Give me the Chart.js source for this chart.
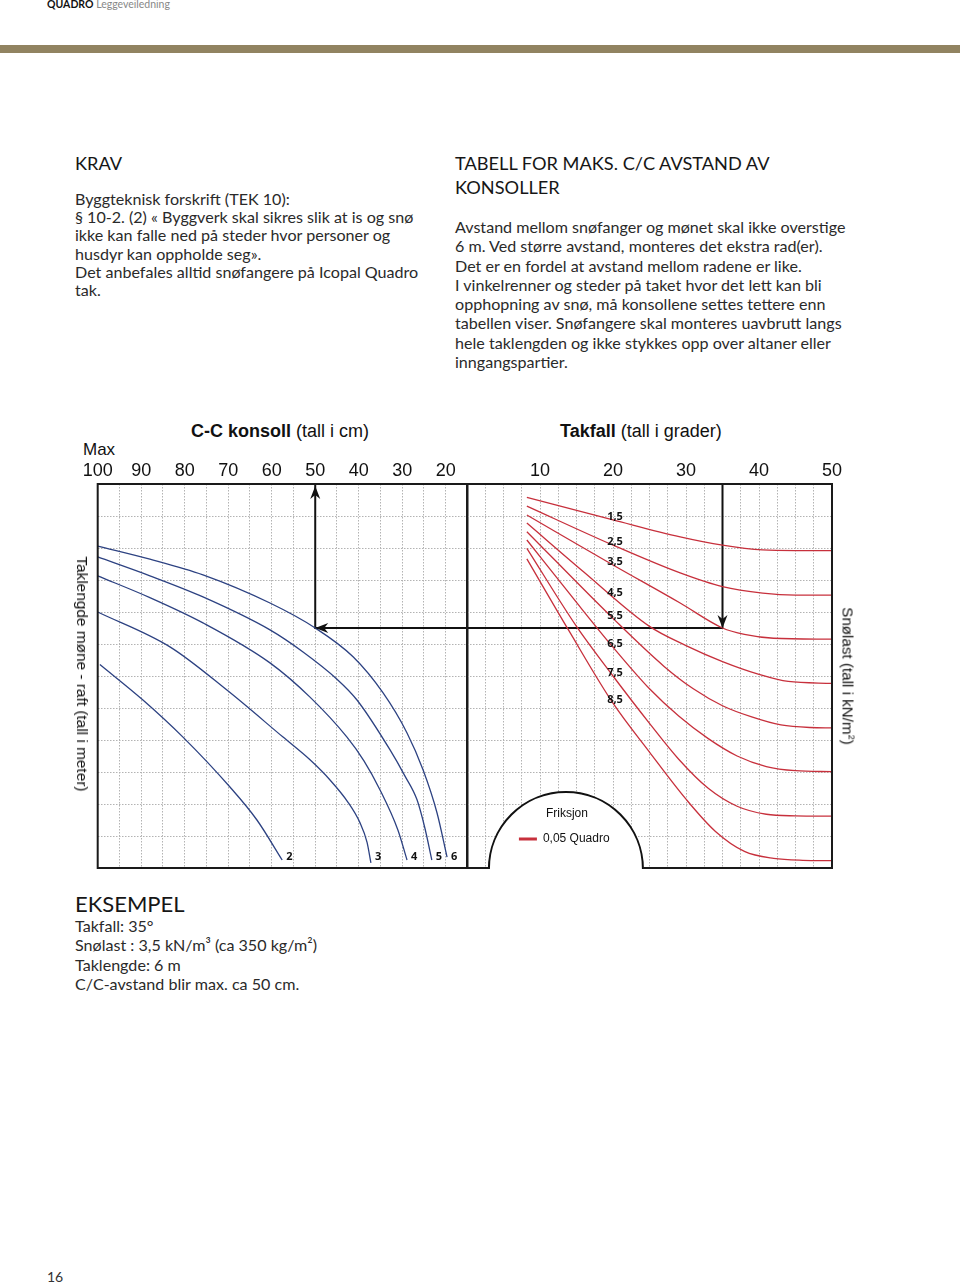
<!DOCTYPE html>
<html>
<head>
<meta charset="utf-8">
<script src="https://cdn.jsdelivr.net/npm/chart.js@4.4.1/dist/chart.umd.min.js"></script>
<style>
  body { margin: 0; width: 960px; height: 1285px; background: #fff; position: relative; overflow: hidden; font-family: Lato, sans-serif; color: #2a2a2a; }
  .abs { position: absolute; white-space: nowrap; }
  .bar { position: absolute; left: 0; top: 45px; width: 960px; height: 8px; background: #918361; }
  .h { font-size: 18.2px; color: #161616; line-height: 24px; }
  .txt { font-size: 16.1px; }
  .arial { font-family: "Liberation Sans", Arial, sans-serif; color: #111; }
  .rot { transform: translate(-50%, -50%) rotate(90deg); }
  .wrap { position: absolute; }
</style>
</head>
<body>
<div class="abs" style="left:47px; top:-2px; font-size:10.5px;"><b style="color:#111;">QUADRO</b> <span style="color:#888;">Leggeveiledning</span></div>
<div class="bar"></div>

<div class="abs h" style="left:75px; top:151px;">KRAV</div>
<div class="abs txt" style="left:75px; top:190px; line-height:18.2px;">
Byggteknisk forskrift (TEK 10):<br>
§ 10-2. (2) « Byggverk skal sikres slik at is og snø<br>
ikke kan falle ned på steder hvor personer og<br>
husdyr kan oppholde seg».<br>
Det anbefales alltid snøfangere på Icopal Quadro<br>
tak.
</div>

<div class="abs h" style="left:455px; top:151px;">TABELL FOR MAKS. C/C AVSTAND AV<br>KONSOLLER</div>
<div class="abs txt" style="left:455px; top:217px; line-height:19.3px;">
Avstand mellom snøfanger og mønet skal ikke overstige<br>
6 m. Ved større avstand, monteres det ekstra rad(er).<br>
Det er en fordel at avstand mellom radene er like.<br>
I vinkelrenner og steder på taket hvor det lett kan bli<br>
opphopning av snø, må konsollene settes tettere enn<br>
tabellen viser. Snøfangere skal monteres uavbrutt langs<br>
hele taklengden og ikke stykkes opp over altaner eller<br>
inngangspartier.
</div>

<div class="abs arial" style="left:191px; top:421px; font-size:18px;"><b>C-C konsoll</b> (tall i cm)</div>
<div class="abs arial" style="left:560px; top:421px; font-size:18px;"><b>Takfall</b> (tall i grader)</div>
<div class="abs arial" style="left:83px; top:440px; font-size:17px;">Max</div>

<div class="wrap" style="left:57px; top:404px;"><canvas id="venstre" width="423" height="476"></canvas></div>
<div class="wrap" style="left:440px; top:404px;"><canvas id="hoyre" width="420" height="476"></canvas></div>

<div class="abs arial rot" style="left:82px; top:674px; font-size:15.4px;">Taklengde møne - raft (tall i meter)</div>
<div class="abs arial rot" style="left:848px; top:676px; font-size:15.2px;">Snølast (tall i kN/m<sup style="font-size:9px;">2</sup>)</div>

<div class="abs" style="left:75px; top:890px; font-size:22px; color:#161616; line-height:28px;">EKSEMPEL</div>
<div class="abs txt" style="left:75px; top:916px; line-height:19.3px;">
Takfall: 35°<br>
Snølast : 3,5 kN/m³ (ca 350 kg/m²)<br>
Taklengde: 6 m<br>
C/C-avstand blir max. ca 50 cm.
</div>

<div class="abs" style="left:47px; top:1268px; font-size:14px; color:#333;">16</div>

<script>
// Taklengde-kurver: [c/c konsoll i cm, nivå i rutenettet]
const taklengdeNavn = ["2", "3", "4", "5", "6"];
const taklengde2 = [[99.5, 6.36], [89.6, 5.25], [80.4, 4.09], [69.6, 2.53], [63.4, 1.5], [57.6, 0.25]];
const taklengde3 = [[100, 8.0], [83.4, 6.91], [70.3, 5.56], [57.4, 4.09], [51.2, 3.38], [46.6, 2.75], [42.5, 2.06], [39.7, 1.41], [38.1, 0.81], [37.2, 0.16]];
const taklengde4 = [[100, 9.13], [88, 8.45], [75.8, 7.66], [60.4, 6.41], [51.2, 5.34], [42.7, 4.09], [38.8, 3.35], [35.1, 2.44], [31, 1.19], [28.9, 0.25]];
const taklengde5 = [[100, 9.72], [88, 9.13], [75.8, 8.47], [60.4, 7.44], [52.8, 6.75], [45, 5.9], [40.4, 5.25], [32.8, 3.69], [29.4, 2.88], [26.6, 2.13], [24.8, 1.25], [23.2, 0.25]];
const taklengde6 = [[100, 10.06], [88, 9.65], [75.8, 9.16], [60.4, 8.28], [50, 7.5], [41.3, 6.6], [34.4, 5.47], [28.9, 4.22], [25.2, 3.06], [22, 1.72], [19.7, 0.34]];

// Snølast-kurver: [takfall i grader, nivå i rutenettet]
const snolastNavn = ["1,5", "2,5", "3,5", "4,5", "5,5", "6,5", "7,5", "8,5"];
const snolast15 = [[8.2, 11.58], [20, 10.88], [29.2, 10.35], [35, 10.09], [40.5, 9.94], [45, 9.92], [50, 9.92]];
const snolast25 = [[8.2, 11.31], [20, 10.09], [29.2, 9.22], [35, 8.79], [40.5, 8.59], [45, 8.53], [50, 8.53]];
const snolast35 = [[8.2, 11.03], [20, 9.47], [29.2, 8.28], [35, 7.5], [38, 7.3], [42, 7.18], [50, 7.15]];
const snolast45 = [[8.2, 10.78], [16, 9.25], [25, 7.55], [30, 6.95], [35, 6.45], [40, 6.05], [44, 5.83], [50, 5.77]];
const snolast55 = [[8.2, 10.51], [20, 7.8], [27, 6.3], [31, 5.6], [35, 5.07], [39, 4.72], [43, 4.47], [47, 4.39], [50, 4.38]];
const snolast65 = [[8.2, 10.25], [15, 8.3], [20, 6.9], [25, 5.6], [29, 4.75], [33, 4.05], [37, 3.5], [41, 3.17], [45, 3.04], [50, 3.01]];
const snolast75 = [[8.2, 9.99], [15, 7.55], [20, 6.0], [25, 4.52], [29, 3.4], [33, 2.5], [37, 1.93], [41, 1.68], [45, 1.63], [50, 1.62]];
const snolast85 = [[8.2, 9.66], [14, 7.4], [20, 5.15], [25, 3.62], [30, 2.15], [34, 1.15], [38, 0.52], [42, 0.3], [46, 0.24], [50, 0.23]];

// Eksempel: takfall 35, snølast 3,5, taklengde 6 -> 50 cm
const eksempelCC = 50;
const eksempelTakfall = 35;
const eksempelNivaa = 7.5;

const BLA = "#2d4282";
const ROD = "#c7303c";
const RUTE = "#b3b3b3";

const tilPunkter = arr => arr.map(p => ({ x: p[0], y: p[1] }));

function kurve(arr, farge) {
  return { data: tilPunkter(arr), borderColor: farge, borderWidth: 1.3, pointRadius: 0,
    cubicInterpolationMode: "monotone", fill: false };
}

function pil(ctx, x, y, retning) {
  ctx.save();
  ctx.translate(x, y);
  ctx.rotate(retning);
  ctx.fillStyle = "#111";
  ctx.beginPath();
  ctx.moveTo(0, 0);
  ctx.lineTo(-13, -5);
  ctx.lineTo(-9, 0);
  ctx.lineTo(-13, 5);
  ctx.closePath();
  ctx.fill();
  ctx.restore();
}

function skalaer(min, max, reverse, steg, etikett) {
  return {
    x: {
      type: "linear", position: "top", min: min, max: max, reverse: reverse,
      ticks: { stepSize: steg, autoSkip: false, maxRotation: 0, padding: 2, color: "#111",
        font: { family: "Liberation Sans", size: 18 }, callback: etikett },
      grid: { color: RUTE, lineWidth: 1, drawTicks: false },
      border: { display: false, dash: [1.5, 1.5] },
      afterFit: s => { s.height = 36; }
    },
    y: {
      min: 0, max: 12,
      ticks: { display: false, stepSize: 1 },
      grid: { color: RUTE, lineWidth: 1, drawTicks: false },
      border: { display: false, dash: [1.5, 1.5] },
      afterFit: s => { s.width = 0; }
    }
  };
}

// venstre del: c/c konsoll
const venstrePlugin = {
  id: "venstrePlugin",
  afterDatasetsDraw(chart) {
    const { ctx, chartArea: a, scales } = chart;
    ctx.save();
    ctx.strokeStyle = "#1a1a1a";
    ctx.lineWidth = 2;
    ctx.strokeRect(a.left, a.top, a.right - a.left, a.bottom - a.top);
    const px = scales.x.getPixelForValue(eksempelCC);
    const py = scales.y.getPixelForValue(eksempelNivaa);
    pil(ctx, px, a.top + 2, -Math.PI / 2);
    pil(ctx, px, py, Math.PI);
    ctx.fillStyle = "#111";
    ctx.font = "bold 11px 'Open Sans'";
    ctx.textBaseline = "middle";
    ctx.textAlign = "left";
    const meta = chart.data.datasets;
    taklengdeNavn.forEach((navn, i) => {
      const d = meta[i].data;
      const siste = d[d.length - 1];
      ctx.fillText(navn, scales.x.getPixelForValue(siste.x) + 4, a.bottom - 11);
    });
    ctx.restore();
  }
};

new Chart(document.getElementById("venstre"), {
  type: "line",
  data: {
    datasets: [
      kurve(taklengde2, BLA), kurve(taklengde3, BLA), kurve(taklengde4, BLA),
      kurve(taklengde5, BLA), kurve(taklengde6, BLA),
      { data: [{ x: eksempelCC, y: 12 }, { x: eksempelCC, y: eksempelNivaa }, { x: 15, y: eksempelNivaa }],
        borderColor: "#111", borderWidth: 2, pointRadius: 0, tension: 0 }
    ]
  },
  options: {
    responsive: false, animation: false,
    layout: { padding: { left: 40.7, right: 12.5, top: 44, bottom: 12 } },
    plugins: { legend: { display: false }, tooltip: { enabled: false } },
    scales: skalaer(15, 100, true, 5, v => (v % 10 === 0 ? String(v) : ""))
  },
  plugins: [venstrePlugin]
});

// høyre del: takfall
function nivaaVed(arr, grad) {
  for (let i = 1; i < arr.length; i++) {
    if (arr[i][0] >= grad) {
      const t = (grad - arr[i - 1][0]) / (arr[i][0] - arr[i - 1][0]);
      return arr[i - 1][1] + t * (arr[i][1] - arr[i - 1][1]);
    }
  }
  return arr[arr.length - 1][1];
}

const snolastSerier = [snolast15, snolast25, snolast35, snolast45, snolast55, snolast65, snolast75, snolast85];

const hoyrePlugin = {
  id: "hoyrePlugin",
  afterDatasetsDraw(chart) {
    const { ctx, chartArea: a, scales } = chart;
    const sx = scales.x, sy = scales.y;
    // halvsirkel for friksjon
    const v = sx.getPixelForValue(3), h = sx.getPixelForValue(24.1);
    const cx = (v + h) / 2, r = (h - v) / 2;
    ctx.save();
    ctx.fillStyle = "#fff";
    ctx.beginPath();
    ctx.arc(cx, a.bottom + 1, r, Math.PI, 0);
    ctx.closePath();
    ctx.fill();
    ctx.strokeStyle = "#111";
    ctx.lineWidth = 2;
    ctx.beginPath();
    ctx.arc(cx, a.bottom + 1, r, Math.PI, 0);
    ctx.stroke();
    // ramme
    ctx.strokeStyle = "#1a1a1a";
    ctx.beginPath();
    ctx.moveTo(v, a.bottom);
    ctx.lineTo(a.left, a.bottom);
    ctx.lineTo(a.left, a.top);
    ctx.lineTo(a.right, a.top);
    ctx.lineTo(a.right, a.bottom);
    ctx.lineTo(h, a.bottom);
    ctx.stroke();
    // tekst i halvsirkelen
    ctx.fillStyle = "#111";
    ctx.font = "12px 'Liberation Sans'";
    ctx.textAlign = "center";
    ctx.textBaseline = "middle";
    ctx.fillText("Friksjon", cx + 1, a.bottom - 54);
    ctx.fillStyle = ROD;
    ctx.fillRect(cx - 47, a.bottom - 30.5, 18, 3);
    ctx.fillStyle = "#111";
    ctx.textAlign = "left";
    ctx.fillText("0,05 Quadro", cx - 23, a.bottom - 29);
    // pil
    pil(ctx, sx.getPixelForValue(eksempelTakfall), sy.getPixelForValue(eksempelNivaa), Math.PI / 2);
    // kurvenavn
    ctx.font = "bold 11px 'Open Sans'";
    ctx.textAlign = "center";
    const kx = sx.getPixelForValue(20);
    snolastSerier.forEach((s, i) => {
      ctx.fillText(snolastNavn[i], kx + 2, sy.getPixelForValue(nivaaVed(s, 20)) - 3);
    });
    ctx.restore();
  }
};

new Chart(document.getElementById("hoyre"), {
  type: "line",
  data: {
    datasets: snolastSerier.map(s => kurve(s, ROD)).concat([
      { data: [{ x: 0, y: eksempelNivaa }, { x: eksempelTakfall, y: eksempelNivaa }, { x: eksempelTakfall, y: 12 }],
        borderColor: "#111", borderWidth: 2, pointRadius: 0, tension: 0 }
    ])
  },
  options: {
    responsive: false, animation: false,
    layout: { padding: { left: 27, right: 28, top: 44, bottom: 12 } },
    plugins: { legend: { display: false }, tooltip: { enabled: false } },
    scales: skalaer(0, 50, false, 2.5, v => (v % 10 === 0 && v > 0 ? String(v) : ""))
  },
  plugins: [hoyrePlugin]
});
</script>
</body>
</html>
